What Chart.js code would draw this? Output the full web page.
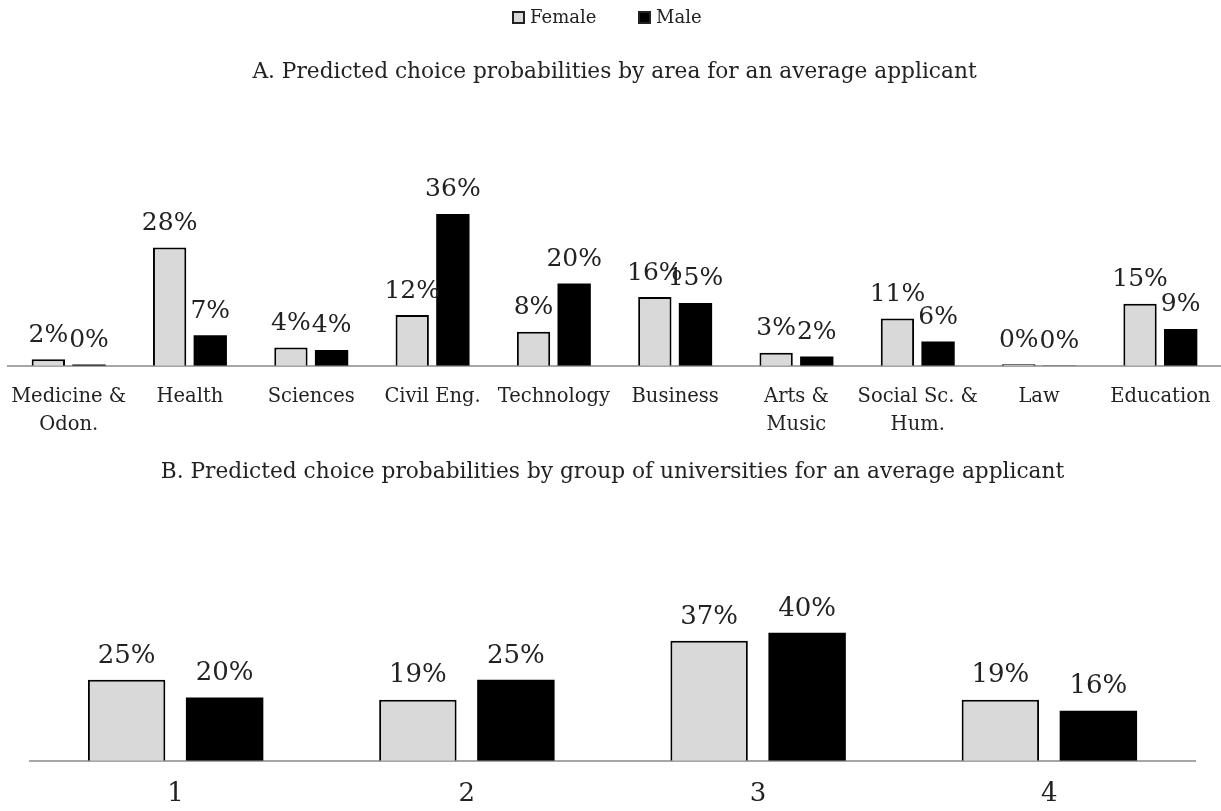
<!DOCTYPE html>
<html>
<head>
<meta charset="utf-8">
<title>Predicted choice probabilities</title>
<script src="https://cdn.jsdelivr.net/npm/chart.js@4.4.1/dist/chart.umd.min.js"></script>
<style>
  html, body { margin: 0; padding: 0; background: #fff; }
  body { width: 1221px; height: 811px; overflow: hidden; position: relative; }
  #legend { position: absolute; top: 5px; left: 0; width: 1221px; height: 24px;
            font: 18px "DejaVu Serif", serif; color: #222; }
  #legend .item { position: absolute; top: 0; line-height: 24px; white-space: nowrap; }
  #legend .box { display: inline-block; width: 13px; height: 13px; margin-right: 5px;
                 vertical-align: -1px; box-sizing: border-box; }
  #wrapA { position: absolute; left: 0; top: 0; width: 1221px; height: 459px; }
  #wrapB { position: absolute; left: 0; top: 440px; width: 1221px; height: 389px; }
</style>
</head>
<body>
<div id="wrapA"><canvas id="areaChart"></canvas></div>
<div id="wrapB"><canvas id="groupChart"></canvas></div>
<div id="legend"></div>

<script>
// Panel A - choice probabilities by area (%)
const areaLabels = [['Medicine &', 'Odon.'], 'Health', 'Sciences', 'Civil Eng.', 'Technology',
                    'Business', ['Arts &', 'Music'], ['Social Sc. &', 'Hum.'], 'Law', 'Education'];
const areaFemale = [1.6, 28.2, 4.4, 12.1, 8.1, 16.4, 3.1, 11.3, 0.4, 14.8];
const areaMale   = [0.3, 7.3, 3.8, 36.2, 19.6, 15.0, 2.2, 5.8, 0.1, 8.8];

// Panel B - choice probabilities by group of universities (%)
const groupLabels = ['1', '2', '3', '4'];
const groupFemale = [25.2, 19.0, 37.3, 19.0];
const groupMale   = [19.7, 25.2, 39.8, 15.6];

const seriesNames = ['Female', 'Male'];
const femaleFill = '#d9d9d9';
const maleFill = '#000000';

const serif = '"DejaVu Serif", serif';

// draws the % value above each bar
const valueLabels = {
  id: 'valueLabels',
  afterDatasetsDraw(chart, args, opts) {
    const ctx = chart.ctx;
    ctx.save();
    ctx.font = opts.font;
    ctx.fillStyle = '#222';
    ctx.textAlign = 'center';
    ctx.textBaseline = 'middle';
    chart.data.datasets.forEach((ds, i) => {
      chart.getDatasetMeta(i).data.forEach((bar, j) => {
        ctx.fillText(Math.round(ds.data[j]) + '%', bar.x, bar.y - opts.offset);
      });
    });
    ctx.restore();
  }
};

function makeDatasets(female, male, catPct, barPct) {
  return [
    {
      label: seriesNames[0],
      data: female,
      backgroundColor: femaleFill,
      borderColor: '#000',
      borderWidth: 2,
      borderSkipped: 'bottom',
      categoryPercentage: catPct,
      barPercentage: barPct
    },
    {
      label: seriesNames[1],
      data: male,
      backgroundColor: maleFill,
      borderColor: '#000',
      borderWidth: 0,
      categoryPercentage: catPct,
      barPercentage: barPct
    }
  ];
}

function baseOptions(cfg) {
  return {
    responsive: true,
    maintainAspectRatio: false,
    animation: false,
    layout: { padding: cfg.padding },
    plugins: {
      legend: { display: false },
      tooltip: { enabled: false },
      title: {
        display: true,
        text: cfg.title,
        color: '#222',
        font: { family: serif, size: 21.7, weight: 'normal', lineHeight: 1.2 },
        padding: { top: 0, bottom: cfg.titleGap }
      },
      valueLabels: { font: cfg.valueFont, offset: 24 }
    },
    scales: {
      x: {
        // tick marks are hidden; tickLength only sets the gap to the labels
        grid: { display: false, drawTicks: true, tickLength: cfg.labelGap },
        border: { display: true, color: '#a6a6a6', width: 2 },
        ticks: {
          color: '#222',
          padding: 0,
          maxRotation: 0,
          autoSkip: false,
          font: cfg.tickFont
        }
      },
      y: {
        display: false,
        min: 0,
        max: cfg.yMax
      }
    }
  };
}

new Chart(document.getElementById('areaChart'), {
  type: 'bar',
  data: {
    labels: areaLabels,
    datasets: makeDatasets(areaFemale, areaMale, 0.67, 0.82)
  },
  options: baseOptions({
    title: 'A. Predicted choice probabilities by area for an average applicant',
    padding: { top: 59, bottom: 20, left: 8, right: 0 },
    titleGap: 113,
    yMax: 40,
    labelGap: 17,
    tickFont: { family: serif, size: 19.5, lineHeight: 1.44 },
    valueFont: '25px ' + serif
  }),
  plugins: [valueLabels]
});

new Chart(document.getElementById('groupChart'), {
  type: 'bar',
  data: {
    labels: groupLabels,
    datasets: makeDatasets(groupFemale, groupMale, 0.673, 0.79)
  },
  options: baseOptions({
    title: 'B. Predicted choice probabilities by group of universities for an average applicant',
    padding: { top: 19, bottom: 19, left: 30, right: 26 },
    titleGap: 115,
    yMax: 50,
    labelGap: 18,
    tickFont: { family: serif, size: 26, lineHeight: 1.2 },
    valueFont: '26px ' + serif
  }),
  plugins: [valueLabels]
});

// HTML legend built from the series names and colours
const legend = document.getElementById('legend');
const legendX = [512, 638];
seriesNames.forEach((name, i) => {
  const item = document.createElement('span');
  item.className = 'item';
  item.style.left = legendX[i] + 'px';
  const box = document.createElement('span');
  box.className = 'box';
  box.style.background = i === 0 ? femaleFill : maleFill;
  box.style.border = '2px solid #222';
  item.appendChild(box);
  item.appendChild(document.createTextNode(name));
  legend.appendChild(item);
});
</script>
</body>
</html>
